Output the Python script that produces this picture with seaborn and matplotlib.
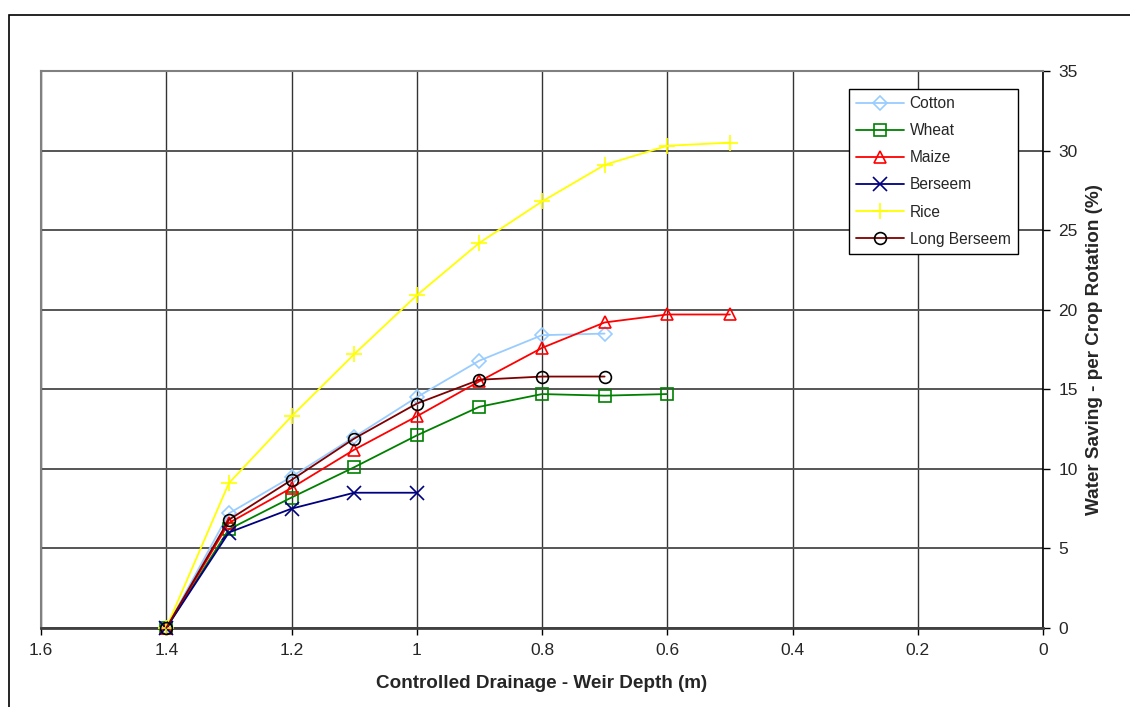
import matplotlib
matplotlib.use("Agg")
import matplotlib.pyplot as plt
import seaborn as sns
import pandas as pd
from matplotlib.patches import Rectangle

depth = [1.4, 1.3, 1.2, 1.1, 1.0, 0.9, 0.8, 0.7, 0.6, 0.5]
cotton = [0, 7.2, 9.5, 12.0, 14.5, 16.8, 18.4, 18.5]
wheat = [0, 6.2, 8.2, 10.1, 12.1, 13.9, 14.7, 14.6, 14.7]
maize = [0, 6.6, 8.8, 11.2, 13.3, 15.5, 17.6, 19.2, 19.7, 19.7]
berseem = [0, 6.0, 7.5, 8.5, 8.5]
rice = [0, 9.1, 13.3, 17.2, 20.9, 24.2, 26.8, 29.1, 30.3, 30.5]
long_berseem = [0, 6.8, 9.3, 11.9, 14.1, 15.6, 15.8, 15.8]

series = [
    ("Cotton", cotton, "#99CCFF", "D", "#99CCFF", 7),
    ("Wheat", wheat, "#008000", "s", "#008000", 8.5),
    ("Maize", maize, "#FF0000", "^", "#FF0000", 9),
    ("Berseem", berseem, "#000080", "x", "#000080", 9.5),
    ("Rice", rice, "#FFFF00", "+", "#FFFF00", 11),
    ("Long Berseem", long_berseem, "#800000", "o", "#000000", 8.5),
]

sns.set_theme(style="white")
plt.rcParams['font.family'] = ['Liberation Sans', 'DejaVu Sans']

fig = plt.figure(figsize=(11.3, 7.07), dpi=100)
W, H = 1130, 707
ax = fig.add_axes([41 / W, 1 - 628 / H, (1043 - 41) / W, (628 - 71) / H])

# outer chart border
fig.patches.append(Rectangle((8.5 / W, -0.1), 1.2, 1 - 14.5 / H + 0.1,
                             transform=fig.transFigure, fill=False,
                             edgecolor="black", lw=1.2, zorder=0))

for name, vals, col, mk, mec, ms in series:
    df = pd.DataFrame({"x": depth[:len(vals)], "y": vals})
    sns.lineplot(data=df, x="x", y="y", ax=ax, color=col, marker=mk,
                 markersize=ms, markerfacecolor="none", markeredgecolor=mec,
                 markeredgewidth=1.2, lw=1.3, label=name, sort=False,
                 estimator=None, clip_on=False, zorder=3)

ax.set_xlim(1.6, 0)
ax.set_ylim(0, 35)
ax.set_xticks([1.6, 1.4, 1.2, 1.0, 0.8, 0.6, 0.4, 0.2, 0])
ax.set_xticklabels(["1.6", "1.4", "1.2", "1", "0.8", "0.6", "0.4", "0.2", "0"])
ax.set_yticks(range(0, 36, 5))
ax.yaxis.tick_right()
ax.yaxis.set_label_position("right")
ax.tick_params(axis="both", which="both", direction="out", length=5, width=1,
               color="black", labelsize=12.5, pad=6,
               bottom=True, right=True, left=False, top=False)
ax.tick_params(axis="y", pad=6)
ax.grid(True, color="#333333", lw=1.0)
ax.grid(True, axis="y", color="#555555", lw=1.4)
ax.set_axisbelow(True)

for s in ["left", "top"]:
    ax.spines[s].set_color("#808080")
    ax.spines[s].set_linewidth(1.5)
ax.spines["right"].set_color("black")
ax.spines["right"].set_linewidth(1.2)
ax.spines["bottom"].set_color("#404040")
ax.spines["bottom"].set_linewidth(2)

ax.set_xlabel("Controlled Drainage - Weir Depth (m)", fontsize=13.6,
              fontweight="bold", labelpad=12)
ax.set_ylabel("Water Saving - per Crop Rotation (%)", fontsize=13.6,
              fontweight="bold", labelpad=6)

leg = ax.legend(loc="upper left", bbox_to_anchor=((849 - 41) / 1002, (628 - 89) / 557),
                borderaxespad=0, frameon=True, fancybox=False, fontsize=11.2,
                labelspacing=0.78, handlelength=3.1, handletextpad=0.35,
                borderpad=0.45, edgecolor="black", framealpha=1)
leg.get_frame().set_linewidth(1.0)

fig.savefig("out.png", dpi=100, facecolor="white")
